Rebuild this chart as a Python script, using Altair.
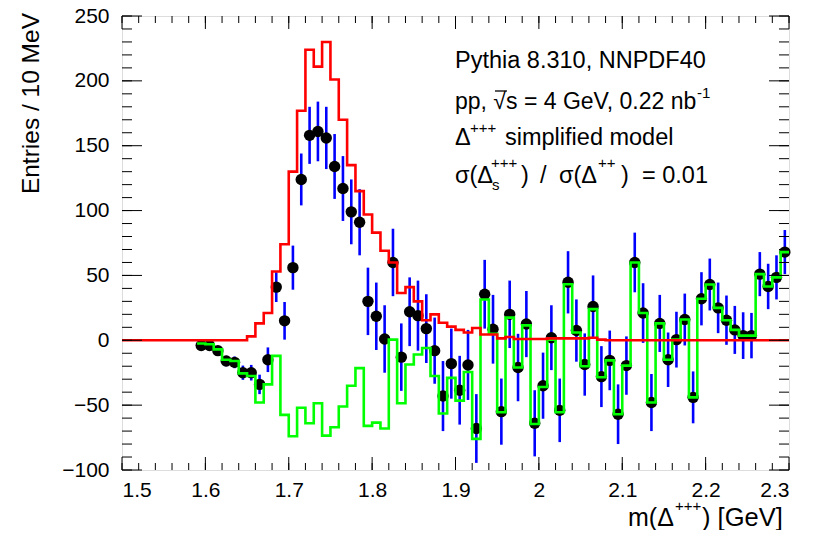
import altair as alt
import numpy as np
import pandas as pd

FONT = "Liberation Sans"
W, H = 667, 454

# ---------------- data ----------------
# red histogram: bins of 10 MeV starting at 1.50 GeV (80 bins)
red_vals = [0] * 15 + [
    3, 13, 21, 53, 74, 130, 177, 224, 211, 230,
    201, 170, 135, 115, 97, 83, 69, 60, 36.5, 41,
    30, 15.5, 20, 13.5, 10.5, 8, 6, 9.5, 4.5, 4.5,
    1.5, 2.5, 1, 1, 1, 1, 1.5, 1.5, 1.5, 1.5,
    1.5, 2, 0.5] + [0] * 22

# data points: bin centres 1.595 ... 2.295 (71 bins)
pt_vals = [
    -4, -4, -8, -16, -17, -25, -25, -34, -15, 41, 15,
    56, 124, 158, 161, 156, 134, 117, 99, 91, 30,
    18.5, 1, 60, -13, 22, 19, 9, -8, -43, -18,
    -38.5, -19, -68, 35.5, 8.5, -55, 20, -21, 12.5, -64,
    -35, 2, -54, 44.7, 7.5, -18.7, 26, -28, -15.5, -57,
    -19.5, 60, 21, -48, 13, -15, 0.5, 16, -44, 32,
    43, 25, 15.5, 8, 3.6, 3.6, 51, 41.5, 48.5, 68]
pt_errs = [
    2.5, 2.5, 3.5, 4, 4.5, 5.5, 6, 7.5, 9.5, 11.5, 14.5,
    17, 20, 22, 23, 24, 25, 25, 25, 25.5, 26,
    26, 26, 26, 26, 26.5, 27, 26.5, 25.5, 27, 27,
    26.5, 27, 26.5, 26.5, 26.5, 25.5, 26, 26, 25.5, 25.5,
    25.5, 25, 24.5, 24, 24, 24, 24, 23.5, 23, 23,
    22.5, 23, 23, 22, 22, 21, 21.5, 20, 20, 20.5,
    20, 19.5, 19, 18.5, 18, 17.5, 17, 17.5, 17, 17]

# green histogram: bins starting at 1.59 GeV (71 bins)
green_vals = [
    -2.5, -3, -7, -15, -16, -25.5, -27.5, -48, -34, -12, -57.5,
    -74, -52, -64, -48.5, -73.5, -67, -51, -35, -21.5, -66,
    -63.5, -68, 0.5, -48.5, -18.7, -11, -6, -27.5, -56.5, -29,
    -46.5, -24.5, -76, 31.5, 5, -55.5, 17.5, -21, 11.5, -64.5,
    -36, 0.5, -55.5, 43.2, 6, -20, 24, -28.5, -15.5, -57,
    -19.5, 60, 21, -48, 13, -15, 0.5, 16, -44, 32,
    43, 25, 15.5, 8, 3.6, 3.6, 51, 41.5, 48.5, 68]

x_major = [1.5, 1.6, 1.7, 1.8, 1.9, 2.0, 2.1, 2.2, 2.3]
y_major = [-100, -50, 0, 50, 100, 150, 200, 250]

# ---------------- tables ----------------
red_edges = np.round(1.50 + 0.01 * np.arange(len(red_vals) + 1), 3)
red_df = pd.DataFrame({"x": red_edges, "y": red_vals + [red_vals[-1]]})

green_edges = np.round(1.59 + 0.01 * np.arange(len(green_vals) + 1), 3)
green_df = pd.DataFrame({"x": green_edges, "y": green_vals + [green_vals[-1]]})

centers = np.round(1.595 + 0.01 * np.arange(len(pt_vals)), 4)
pts_df = pd.DataFrame({"x": centers, "y": pt_vals, "e": pt_errs})
pts_df["lo"] = pts_df["y"] - pts_df["e"]
pts_df["hi"] = pts_df["y"] + pts_df["e"]

xs = alt.Scale(domain=[1.5, 2.3], nice=False, zero=False)
ys = alt.Scale(domain=[-100, 250], nice=False, zero=False)

# ---------------- marks ----------------
ebars = alt.Chart(pts_df).mark_rule(color="#0000ff", strokeWidth=2.6).encode(
    x=alt.X("x:Q", scale=xs, axis=alt.Axis(values=x_major, format="~g", ticks=False, domain=False,
                                          grid=False, labelFont=FONT, labelFontSize=21,
                                          labelColor="black", labelPadding=9, title=None)),
    y=alt.Y("lo:Q", scale=ys, axis=alt.Axis(values=y_major, format="d", ticks=False, domain=False,
                                           grid=False, labelFont=FONT, labelFontSize=21,
                                           labelColor="black", labelPadding=13, title=None)),
    y2="hi:Q",
)
points = alt.Chart(pts_df).mark_circle(color="black", size=130, opacity=1).encode(
    x=alt.X("x:Q", scale=xs), y=alt.Y("y:Q", scale=ys))
green = alt.Chart(green_df).mark_line(interpolate="step-after", color="#00ff00", strokeWidth=2.6).encode(
    x=alt.X("x:Q", scale=xs), y=alt.Y("y:Q", scale=ys))
red = alt.Chart(red_df).mark_line(interpolate="step-after", color="#ff0000", strokeWidth=2.6).encode(
    x=alt.X("x:Q", scale=xs), y=alt.Y("y:Q", scale=ys))

# ---------------- ticks (inside the frame, on all four sides) ----------------
x_minor = [round(1.5 + 0.02 * i, 2) for i in range(41)]
y_minor = list(range(-100, 251, 10))
xmaj_df = pd.DataFrame({"v": x_major})
xmin_df = pd.DataFrame({"v": x_minor})
ymaj_df = pd.DataFrame({"v": y_major})
ymin_df = pd.DataFrame({"v": y_minor})

def xticks(df, length):
    b = alt.Chart(df).mark_rule(color="black", strokeWidth=1).encode(
        x=alt.X("v:Q", scale=xs), y=alt.value(H), y2=alt.value(H - length))
    t = alt.Chart(df).mark_rule(color="black", strokeWidth=1).encode(
        x=alt.X("v:Q", scale=xs), y=alt.value(0), y2=alt.value(length))
    return [b, t]

def yticks(df, length):
    l = alt.Chart(df).mark_rule(color="black", strokeWidth=1).encode(
        y=alt.Y("v:Q", scale=ys), x=alt.value(0), x2=alt.value(length))
    r = alt.Chart(df).mark_rule(color="black", strokeWidth=1).encode(
        y=alt.Y("v:Q", scale=ys), x=alt.value(W), x2=alt.value(W - length))
    return [l, r]

ticks = xticks(xmaj_df, 13) + xticks(xmin_df, 7) + yticks(ymaj_df, 20) + yticks(ymin_df, 10)

# ---------------- text ----------------
one = pd.DataFrame({"a": [0]})
LS = 23.5

def txt(s, x, y, size=LS, align="left", angle=0):
    return alt.Chart(one).mark_text(text=s, font=FONT, fontSize=size, align=align,
                                    baseline="alphabetic", angle=angle, color="black").encode(
        x=alt.value(x), y=alt.value(y))

sqrt_bar = alt.Chart(one).mark_rule(color="black", strokeWidth=1.3).encode(
    x=alt.value(373), x2=alt.value(385), y=alt.value(75))

texts = [
    txt("Pythia 8.310, NNPDF40", 333, 52),
    txt("pp, \u221as = 4 GeV, 0.22 nb", 333, 93, size=23),
    txt("-1", 575, 82, size=15),
    txt("\u0394", 333, 129),
    txt("+++", 348, 117, size=15),
    txt("simplified model", 383, 129),
    txt("\u03c3(\u0394", 333, 167),
    txt("+++", 369, 152, size=15),
    txt("s", 370, 174, size=15),
    txt(")", 399, 167),
    txt("/", 418, 167),
    txt("\u03c3(\u0394", 437, 167),
    txt("++", 476, 152, size=15),
    txt(")", 499, 167),
    txt("= 0.01", 520, 167),
    # axis titles
    txt("Entries / 10 MeV", -83, -3, size=24.5, align="right", angle=270),
    txt("m(\u0394", 506, 510, size=25),
    txt("+++", 553, 495, size=15),
    txt(") [GeV]", 580, 510, size=25.5),
]

chart = alt.layer(ebars, points, green, red, *ticks, sqrt_bar, *texts).properties(
    width=W, height=H,
    autosize=alt.AutoSizeParams(type="none"),
    padding={"left": 114, "top": 8, "right": 18, "bottom": 60},
).configure_view(stroke="black", strokeWidth=1).configure(background="white")

chart.save("out.html", embed_options={"renderer": "svg", "actions": False})
